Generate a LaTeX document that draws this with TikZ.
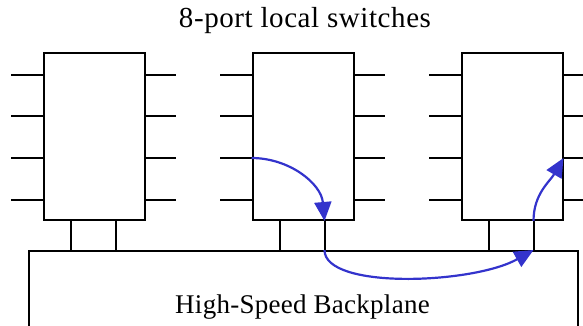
\documentclass[tikz,border=0pt]{standalone}
\usepackage{fontspec}
\setmainfont{Liberation Serif}
\usetikzlibrary{arrows.meta}
\definecolor{hopblue}{RGB}{51,51,204}
\begin{document}
\begin{tikzpicture}[
	x=1pt, y=-1pt,
	switch/.style={ draw, line width=2pt, minimum width=101pt, minimum height=167pt, inner sep=0pt },
	plane/.style={ draw, line width=2pt, minimum width=549pt, minimum height=110pt, inner sep=0pt },
	wire/.style={ line width=2pt },
	hop/.style={ line width=2.2pt, draw=hopblue, -{Triangle[length=19pt,width=17pt]} }
]
\useasboundingbox (0,0) rectangle (583,326);
\clip (0,0) rectangle (583,326);

\node at (305,28) (title) [anchor=base] {\fontsize{29}{34}\selectfont\addfontfeature{LetterSpace=2}8-port local switches};

\node at (94.5,136.5) (sw1) [switch] {};
\node at (303,136.5) (sw2) [switch] {};
\node at (512,136.5) (sw3) [switch] {};
\node at (303.5,306) (bp) [plane] {};
\node at (302.5,313) (bplabel) [anchor=base] {\fontsize{27}{32}\selectfont\addfontfeature{LetterSpace=1}High-Speed Backplane};

% ports and backplane links
\foreach \s in {sw1,sw2,sw3} {
	\foreach \y/\i in {75/1,116/2,158/3,200/4} {
		\coordinate (\s-l\i) at (\s.west |- 0,\y);
		\coordinate (\s-r\i) at (\s.east |- 0,\y);
		\draw[wire] (\s-l\i) -- ++(-32,0);
		\draw[wire] (\s-r\i) -- ++(30,0);
	}
	\coordinate (\s-a) at ([xshift=28pt]\s.south west);
	\coordinate (\s-b) at ([xshift=73pt]\s.south west);
	\coordinate (\s-ab) at (\s-a |- bp.north);
	\coordinate (\s-bb) at (\s-b |- bp.north);
	\draw[wire] (\s-a) -- (\s-ab);
	\draw[wire] (\s-b) -- (\s-bb);
}

\draw[hop] (sw2-l3) to [out=0,in=95] (sw2-b);
\draw[hop] (sw2-bb) .. controls +(0,40) and +(-60,34) .. (sw3-bb);
\draw[hop] (sw3-b) to [out=90,in=240] (sw3-r3);

\end{tikzpicture}
\end{document}
